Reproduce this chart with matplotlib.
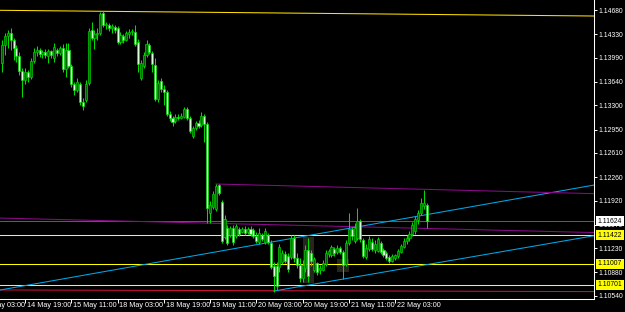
import matplotlib
matplotlib.use('Agg')
import matplotlib.pyplot as plt
import matplotlib.transforms as mtransforms
from matplotlib import font_manager as fm
from matplotlib.patches import Rectangle
import numpy as np

# EURUSD H1, 14 May 10:00 .. 22 May 14:00
opens = [1.13913, 1.14173, 1.14304, 1.14347, 1.14246, 1.14130, 1.14014, 1.13797, 1.13667, 1.13782,
         1.13710, 1.13942, 1.14072, 1.14101, 1.14043, 1.14072, 1.14014, 1.14087, 1.13985, 1.14101,
         1.14058, 1.14130, 1.13826, 1.14101, 1.13869, 1.13609, 1.13522, 1.13609, 1.13348, 1.13377,
         1.13623, 1.14391, 1.14275, 1.14333, 1.14347, 1.14637, 1.14463, 1.14463, 1.14420, 1.14434,
         1.14420, 1.14217, 1.14304, 1.14246, 1.14333, 1.14362, 1.14362, 1.14217, 1.13696, 1.13869,
         1.14029, 1.14173, 1.14058, 1.13884, 1.13391, 1.13652, 1.13536, 1.13493, 1.13174, 1.13116,
         1.13073, 1.13131, 1.13116, 1.13131, 1.13247, 1.13116, 1.12856, 1.12972, 1.13044, 1.13015,
         1.13145, 1.13029, 1.11741, 1.11828, 1.11799, 1.12147, 1.11900, 1.11393, 1.11524, 1.11422,
         1.11524, 1.11408, 1.11509, 1.11466, 1.11509, 1.11466, 1.11509, 1.11495, 1.11408, 1.11321,
         1.11422, 1.11321, 1.11422, 1.11306, 1.10973, 1.10973, 1.10959, 1.11031, 1.11147, 1.11118,
         1.11104, 1.11379, 1.11089, 1.10988, 1.10800, 1.10944, 1.11205, 1.11162, 1.10915, 1.11017,
         1.10915, 1.10915, 1.11002, 1.11147, 1.11133, 1.11220, 1.11176, 1.11234, 1.11176, 1.11002,
         1.11306, 1.11509, 1.11335, 1.11379, 1.11625, 1.11350, 1.11104, 1.11220, 1.11321, 1.11205,
         1.11191, 1.11306, 1.11205, 1.11162, 1.11104, 1.11046, 1.11089, 1.11118, 1.11176, 1.11248,
         1.11335, 1.11379, 1.11437, 1.11480, 1.11639, 1.11741, 1.11842, 1.11857]
highs = [1.14246, 1.14347, 1.14391, 1.14420, 1.14275, 1.14173, 1.14072, 1.13840, 1.13840, 1.13811,
         1.13985, 1.14130, 1.14159, 1.14130, 1.14101, 1.14115, 1.14115, 1.14101, 1.14202, 1.14130,
         1.14159, 1.14188, 1.14202, 1.14202, 1.13898, 1.13638, 1.13696, 1.13638, 1.13406, 1.13667,
         1.14420, 1.14506, 1.14391, 1.14420, 1.14651, 1.14666, 1.14506, 1.14492, 1.14477, 1.14463,
         1.14449, 1.14362, 1.14333, 1.14376, 1.14405, 1.14405, 1.14463, 1.14260, 1.13956, 1.14072,
         1.14246, 1.14202, 1.14087, 1.13985, 1.13667, 1.13696, 1.13594, 1.13522, 1.13218, 1.13145,
         1.13174, 1.13174, 1.13189, 1.13276, 1.13276, 1.13145, 1.13001, 1.13073, 1.13087, 1.13203,
         1.13174, 1.13058, 1.11914, 1.12059, 1.12161, 1.12161, 1.11929, 1.11712, 1.11567, 1.11553,
         1.11567, 1.11582, 1.11538, 1.11538, 1.11553, 1.11538, 1.11553, 1.11524, 1.11466, 1.11524,
         1.11451, 1.11524, 1.11451, 1.11350, 1.11031, 1.11031, 1.11292, 1.11205, 1.11191, 1.11162,
         1.11422, 1.11422, 1.11162, 1.11089, 1.11060, 1.11277, 1.11379, 1.11205, 1.11104, 1.11031,
         1.10988, 1.11060, 1.11205, 1.11220, 1.11277, 1.11248, 1.11277, 1.11263, 1.11205, 1.11350,
         1.11741, 1.11538, 1.11596, 1.11813, 1.11654, 1.11379, 1.11292, 1.11408, 1.11379, 1.11350,
         1.11393, 1.11335, 1.11234, 1.11191, 1.11133, 1.11147, 1.11147, 1.11220, 1.11292, 1.11379,
         1.11422, 1.11480, 1.11610, 1.11697, 1.11784, 1.11958, 1.12074, 1.11886]
lows = [1.13782, 1.14029, 1.14130, 1.14101, 1.13956, 1.13927, 1.13739, 1.13420, 1.13609, 1.13638,
        1.13681, 1.13913, 1.14014, 1.14000, 1.13985, 1.13985, 1.13913, 1.13985, 1.13927, 1.14014,
        1.14029, 1.13782, 1.13710, 1.13840, 1.13565, 1.13449, 1.13493, 1.13305, 1.13232, 1.13348,
        1.13594, 1.14246, 1.14115, 1.14246, 1.14318, 1.14434, 1.14405, 1.14376, 1.14347, 1.14347,
        1.14188, 1.14188, 1.14202, 1.14231, 1.14275, 1.14318, 1.14159, 1.13782, 1.13667, 1.13840,
        1.14000, 1.14043, 1.13782, 1.13362, 1.13348, 1.13493, 1.13305, 1.13145, 1.13073, 1.13001,
        1.13044, 1.13087, 1.13102, 1.13116, 1.13087, 1.12899, 1.12827, 1.12943, 1.12972, 1.12986,
        1.12769, 1.11596, 1.11596, 1.11799, 1.11770, 1.12001, 1.11306, 1.11364, 1.11277, 1.11393,
        1.11277, 1.11379, 1.11408, 1.11451, 1.11422, 1.11437, 1.11408, 1.11379, 1.11306, 1.11292,
        1.11335, 1.11292, 1.11292, 1.10930, 1.10597, 1.10626, 1.10886, 1.11002, 1.11017, 1.10886,
        1.11075, 1.11031, 1.10944, 1.10742, 1.10742, 1.10886, 1.10742, 1.10973, 1.10886, 1.10843,
        1.10857, 1.10901, 1.10973, 1.11104, 1.11104, 1.11118, 1.11147, 1.11147, 1.10785, 1.10973,
        1.11277, 1.11350, 1.11306, 1.11350, 1.11321, 1.11089, 1.11075, 1.11191, 1.11191, 1.11162,
        1.11176, 1.11147, 1.11104, 1.11060, 1.11017, 1.11031, 1.11060, 1.11089, 1.11162, 1.11234,
        1.11292, 1.11335, 1.11408, 1.11437, 1.11582, 1.11712, 1.11799, 1.11524]
closes = [1.14173, 1.14304, 1.14347, 1.14246, 1.14130, 1.14014, 1.13797, 1.13667, 1.13782, 1.13710,
          1.13942, 1.14072, 1.14101, 1.14043, 1.14072, 1.14029, 1.14087, 1.14029, 1.14144, 1.14058,
          1.14130, 1.13826, 1.14101, 1.13869, 1.13609, 1.13522, 1.13638, 1.13348, 1.13290, 1.13609,
          1.14376, 1.14275, 1.14333, 1.14347, 1.14622, 1.14463, 1.14477, 1.14420, 1.14449, 1.14391,
          1.14217, 1.14318, 1.14246, 1.14347, 1.14362, 1.14376, 1.14188, 1.13898, 1.13913, 1.14029,
          1.14188, 1.14072, 1.13898, 1.13391, 1.13623, 1.13536, 1.13493, 1.13174, 1.13116, 1.13058,
          1.13131, 1.13116, 1.13145, 1.13247, 1.13116, 1.12928, 1.12972, 1.13044, 1.13001, 1.13145,
          1.13029, 1.11813, 1.11857, 1.12016, 1.12132, 1.12030, 1.11335, 1.11654, 1.11306, 1.11524,
          1.11321, 1.11553, 1.11437, 1.11509, 1.11451, 1.11509, 1.11437, 1.11408, 1.11335, 1.11451,
          1.11364, 1.11480, 1.11321, 1.10959, 1.10829, 1.10684, 1.11248, 1.11162, 1.11046, 1.10930,
          1.11379, 1.11089, 1.10988, 1.10800, 1.10988, 1.11205, 1.10829, 1.11046, 1.11075, 1.10886,
          1.10944, 1.11017, 1.11162, 1.11191, 1.11248, 1.11162, 1.11234, 1.11176, 1.10988, 1.11306,
          1.11509, 1.11408, 1.11524, 1.11625, 1.11364, 1.11118, 1.11234, 1.11364, 1.11220, 1.11292,
          1.11364, 1.11176, 1.11133, 1.11089, 1.11046, 1.11118, 1.11133, 1.11191, 1.11263, 1.11335,
          1.11379, 1.11437, 1.11567, 1.11654, 1.11741, 1.11886, 1.11886, 1.11625]

time_ticks = [-8, 8, 24, 40, 56, 72, 88, 104, 120, 136]
time_labels = ['14 May 03:00', '14 May 19:00', '15 May 11:00', '18 May 03:00', '18 May 19:00',
               '19 May 11:00', '20 May 03:00', '20 May 19:00', '21 May 11:00', '22 May 03:00']
price_ticks = [1.14680, 1.14330, 1.13990, 1.13640, 1.13300, 1.12950, 1.12610,
               1.12260, 1.11920, 1.11570, 1.11230, 1.10880, 1.10540]

bid = 1.11624
levels = [1.11422, 1.11007, 1.10701]

# trend lines as (bar, price) anchor pairs
top_line = [(-1, 1.14676), (205, 1.14593)]
red_line = [(-1, 1.10627), (205, 1.10603)]
blue_lower = [(0, 1.10631), (200, 1.12110)]
blue_upper = [(94, 1.10611), (206, 1.11420)]
purple_high = [(74, 1.12161), (206, 1.12020)]
purple_low = [(0, 1.11667), (200, 1.11463)]
# shaded boxes: (bar from, bar to, price low, price high)
boxes = [(104.2, 108.0, 1.10727, 1.11393), (115.9, 120.1, 1.10886, 1.11075)]

names = {f.name for f in fm.fontManager.ttflist}
FONT = 'Liberation Sans Narrow' if 'Liberation Sans Narrow' in names else 'Liberation Sans'
plt.rcParams['font.family'] = FONT
FS = 5.8 if FONT.endswith('Narrow') else 4.9

fig = plt.figure(figsize=(6.25, 3.12), dpi=100, facecolor='black')
ax = fig.add_axes([0, 13 / 312, 594 / 625, 299 / 312], facecolor='black')

for b0, b1, p0, p1 in boxes:
    ax.add_patch(Rectangle((b0, p0), b1 - b0, p1 - p0, fc='#26261c', ec='none', zorder=1))

o = np.array(opens)
c = np.array(closes)
h = np.array(highs)
l = np.array(lows)
x = np.arange(len(c))
up = c > o
lo = np.minimum(o, c)
ht = np.maximum(np.abs(c - o), 0.00004)

ax.vlines(x, l, h, color='#00dc00', lw=0.75, zorder=3)
ax.bar(x[up], ht[up], bottom=lo[up], width=0.72, color='#006400',
       edgecolor='#00d000', linewidth=0.5, zorder=4)
ax.bar(x[~up], ht[~up], bottom=lo[~up], width=0.72, color='#d8ffd8',
       edgecolor='#00e000', linewidth=0.5, zorder=4)

lw = 0.75
ax.axhline(bid, color='#5c5c5c', lw=lw, zorder=2)
for lv in levels:
    ax.axhline(lv, color='#ffff00', lw=lw, zorder=2)
ax.axline(*top_line, color='#ffe000', lw=lw, zorder=2)
ax.axline(*red_line, color='#d0103a', lw=lw, zorder=2)
ax.axline(*purple_low, color='#8a0a8a', lw=lw, zorder=2)
ax.axline(*blue_lower, color='#00a8e8', lw=lw, zorder=2)
for a, b, col in [(blue_upper[0], blue_upper[1], '#00a8e8'),
                  (purple_high[0], purple_high[1], '#8a0a8a')]:
    ax.plot([a[0], b[0]], [a[1], b[1]], color=col, lw=lw, zorder=2)

ax.set_xlim(-2 / 2.89, 592 / 2.89)
ax.set_ylim(1.10496, 1.14825)

for s in ['top', 'left']:
    ax.spines[s].set_visible(False)
for s in ['right', 'bottom']:
    ax.spines[s].set_color('white')
    ax.spines[s].set_linewidth(0.75)

ax.yaxis.tick_right()
ax.set_yticks(price_ticks)
ax.set_yticklabels(['%.5f' % p for p in price_ticks])
ax.tick_params(axis='y', colors='white', length=2.5, width=0.7, pad=0.8, labelsize=FS)

ax.set_xticks([t for t in time_ticks if t >= 0])
ax.set_xticklabels([])
ax.tick_params(axis='x', colors='white', length=3, width=0.7)
trans = mtransforms.blended_transform_factory(ax.transData, ax.transAxes)
for t, lab in zip(time_ticks, time_labels):
    ax.text(t + 0.6, -0.021, lab, transform=trans, ha='left', va='center',
            fontsize=5.2, color='white', clip_on=False)

ytrans = ax.get_yaxis_transform()
ax.text(1.0065, bid, '%.5f' % bid, transform=ytrans, ha='left', va='center', fontsize=FS,
        color='black', clip_on=False, zorder=10,
        bbox=dict(boxstyle='square,pad=0.25', fc='white', ec='none'))
for lv in levels:
    ax.text(1.0065, lv, '%.5f' % lv, transform=ytrans, ha='left', va='center', fontsize=FS,
            color='black', clip_on=False, zorder=10,
            bbox=dict(boxstyle='square,pad=0.25', fc='#ffff00', ec='none'))

fig.savefig('out.png', dpi=100, facecolor='black')
